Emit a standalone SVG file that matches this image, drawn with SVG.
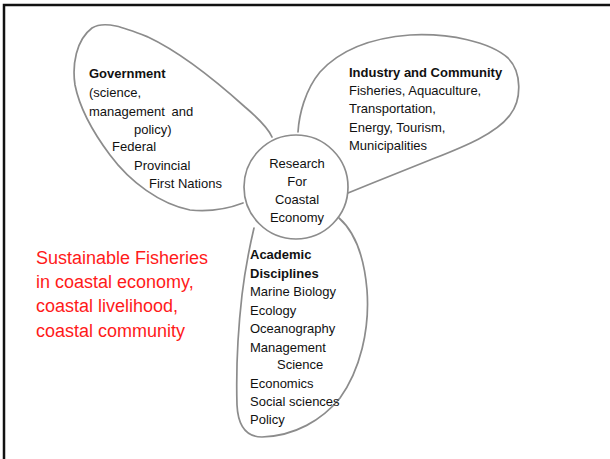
<svg xmlns="http://www.w3.org/2000/svg" width="610" height="459" viewBox="0 0 610 459">
<style>
.petal{fill:none;stroke:#8c8c8c;stroke-width:1.7;stroke-linejoin:round;stroke-linecap:round}
.t{font-family:"Liberation Sans",Arial,sans-serif;font-size:13px;fill:#111}
.b{font-weight:bold}
.c{text-anchor:middle}
.red{font-family:"Liberation Sans",Arial,sans-serif;font-size:18px;fill:#ff1a1a}
</style>
<rect width="610" height="459" fill="#fff"/>
<path d="M4,459 L4,5 L610,5" fill="none" stroke="#111" stroke-width="2.5"/>
<g id="connectors"/>
<g id="government">
<path class="petal" d="M243,203 C230,208 210,212 190,210 C160,204 130,182 110,155 C95,135 80,110 75,85 C72,65 76,40 92,28 C105,20 125,28 148,37 C180,52 215,80 245,107 C258,118 268,128 272,137"/>
<text class="t b" x="89" y="78">Government</text>
<text class="t" x="89" y="97">(science,</text>
<text class="t" x="89" y="116" word-spacing="3">management and</text>
<text class="t" x="134" y="134">policy)</text>
<text class="t" x="112" y="151">Federal</text>
<text class="t" x="134" y="170">Provincial</text>
<text class="t" x="149" y="188">First Nations</text>
</g>
<g id="industry">
<path class="petal" d="M298,132 C299,115 305,90 320,72 C340,50 370,38 410,35 C450,33 490,42 508,58 C522,72 522,100 510,115 C495,135 460,148 430,160 C400,172 375,182 348,193"/>
<text class="t b" x="349" y="77">Industry and Community</text>
<text class="t" x="349" y="95">Fisheries, Aquaculture,</text>
<text class="t" x="349" y="113">Transportation,</text>
<text class="t" x="349" y="132">Energy, Tourism,</text>
<text class="t" x="349" y="150">Municipalities</text>
</g>
<g id="academic">
<path class="petal" d="M339,218 C355,232 364,255 367,290 C370,330 360,370 340,398 C322,420 295,436 262,437 C245,437 238,425 237,405 C236,370 238,330 242,295 C245,270 250,245 254,228"/>
<text class="t b" x="250" y="259">Academic</text>
<text class="t b" x="250" y="278">Disciplines</text>
<text class="t" x="250" y="296">Marine Biology</text>
<text class="t" x="250" y="315">Ecology</text>
<text class="t" x="250" y="333">Oceanography</text>
<text class="t" x="250" y="352">Management</text>
<text class="t" x="277" y="369">Science</text>
<text class="t" x="250" y="388">Economics</text>
<text class="t" x="250" y="406">Social sciences</text>
<text class="t" x="250" y="424">Policy</text>
</g>
<g id="research">
<circle cx="296" cy="187" r="52" fill="#fff" class="petal"/>
<text class="t c" x="297" y="168">Research</text>
<text class="t c" x="297" y="186">For</text>
<text class="t c" x="297" y="204">Coastal</text>
<text class="t c" x="297" y="222">Economy</text>
</g>
<g id="caption">
<text class="red" x="36" y="264">Sustainable Fisheries</text>
<text class="red" x="36" y="288">in coastal economy,</text>
<text class="red" x="36" y="312">coastal livelihood,</text>
<text class="red" x="36" y="337">coastal community</text>
</g>
</svg>
